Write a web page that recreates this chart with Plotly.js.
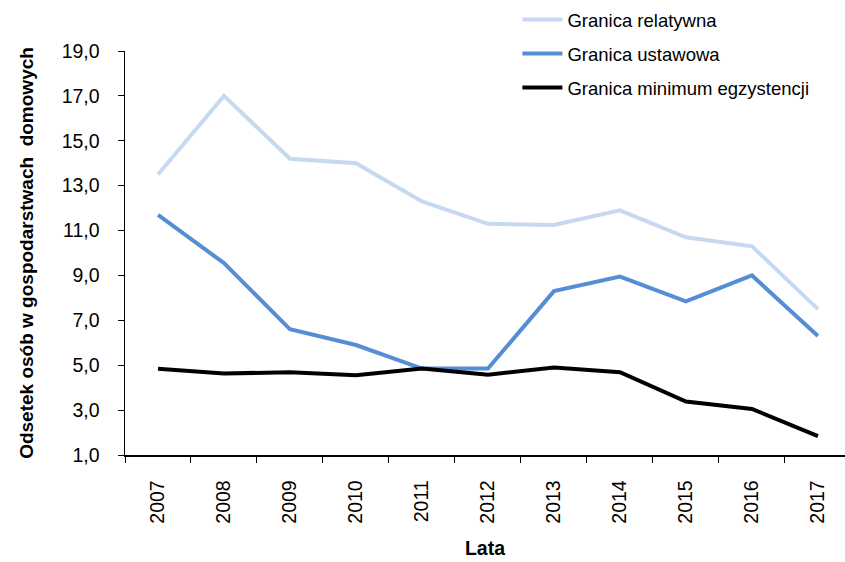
<!DOCTYPE html>
<html>
<head>
<meta charset="utf-8">
<script src="https://cdn.plot.ly/plotly-3.0.1.min.js"></script>
<style>html,body{margin:0;padding:0;background:#fff;}#chart{width:845px;height:562px;}</style>
</head>
<body>
<div id="chart"></div>
<script>
const years = ["2007","2008","2009","2010","2011","2012","2013","2014","2015","2016","2017"];
const relatywna = [13.5, 17.0, 14.2, 14.0, 12.3, 11.3, 11.25, 11.9, 10.7, 10.3, 7.5];
const ustawowa = [11.7, 9.55, 6.6, 5.9, 4.85, 4.85, 8.3, 8.95, 7.85, 9.0, 6.3];
const minimum = [4.84, 4.63, 4.69, 4.55, 4.85, 4.58, 4.9, 4.69, 3.38, 3.05, 1.84];
const names = ["Granica relatywna", "Granica ustawowa", "Granica minimum egzystencji"];
const yTicks = [1, 3, 5, 7, 9, 11, 13, 15, 17, 19];

const font = "Liberation Sans, Arial, sans-serif";
const traces = [
  {x: years, y: relatywna, name: names[0], legendgroup: "a", type: "scatter", mode: "lines", line: {color: "#c6d9f1", width: 4}},
  {x: years, y: ustawowa, name: names[1], legendgroup: "b", type: "scatter", mode: "lines", line: {color: "#558ed5", width: 4}},
  {x: years, y: minimum, name: names[2], legendgroup: "c", type: "scatter", mode: "lines", line: {color: "#000000", width: 4}}
];
const layout = {
  width: 845, height: 562,
  margin: {l: 125, r: 0, t: 51, b: 107},
  paper_bgcolor: "#fff", plot_bgcolor: "#fff",
  separators: ", ",
  font: {family: font, size: 18, color: "#000"},
  showlegend: true,
  legend: {x: 0.545, y: 1.124, xanchor: "left", yanchor: "top", font: {family: font, size: 18.5}, bgcolor: "rgba(0,0,0,0)", tracegroupgap: 7, itemwidth: 40},
  xaxis: {
    type: "category", range: [-0.5, 10.41], showgrid: false, zeroline: false,
    showline: true, linecolor: "#000", linewidth: 1.5,
    ticks: "outside", ticklen: 6, tickcolor: "#000", tickson: "boundaries",
    tickangle: -90, tickfont: {family: font, size: 19.5}, ticklabelstandoff: 16,
    title: {text: "<b>Lata</b>", font: {family: font, size: 19.5}, standoff: 18}
  },
  yaxis: {
    range: [1, 19], showgrid: false, zeroline: false,
    showline: true, linecolor: "#000", linewidth: 1.5,
    ticks: "outside", ticklen: 6, tickcolor: "#000",
    tickvals: yTicks, tickformat: ".1f", tickfont: {family: font, size: 19.5}, ticklabelstandoff: 14,
    title: {text: "<b>Odsetek osób w gospodarstwach  domowych</b>", font: {family: font, size: 19}, standoff: 23}
  }
};
Plotly.newPlot("chart", traces, layout, {displayModeBar: false, staticPlot: true});
</script>
</body>
</html>
